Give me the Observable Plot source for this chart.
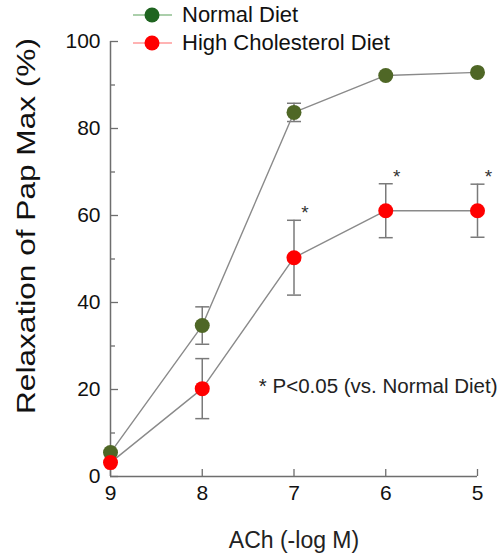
<!DOCTYPE html>
<html>
<head>
<meta charset="utf-8">
<script src="https://cdn.jsdelivr.net/npm/d3@7"></script>
<script src="https://cdn.jsdelivr.net/npm/@observablehq/plot@0.6"></script>
<style>
  html, body { margin: 0; padding: 0; background: #fff; }
  #wrap { position: relative; width: 500px; height: 555px; font-family: "Liberation Sans", Arial, sans-serif; }
  #legend { position: absolute; left: 0; top: 0; }
  .lg { position: absolute; left: 130px; height: 24px; display: flex; align-items: center; font-size: 22px; color: #111; white-space: nowrap; }
  .lg svg { margin-right: 8px; }
</style>
</head>
<body>
<div id="wrap"><div id="legend"></div></div>
<script>
// ---- data ----
const doses = [9, 8, 7, 6, 5];                 // ACh (-log M)
const normalMean = [5.5, 34.7, 83.7, 92.2, 92.9];
const normalErr  = [0, 4.3, 2.1, 0, 0];
const cholMean   = [3.2, 20.2, 50.3, 61.1, 61.1];
const cholErr    = [0, 6.9, 8.6, 6.2, 6.1];
const significant = [false, false, true, true, true]; // * P<0.05
const seriesNames = ["Normal Diet", "High Cholesterol Diet"];
const seriesColors = ["#4f6726", "#ff0000"];
const legendColors = ["#1f6420", "#ff0000"];
const legendLineColors = ["#8fbf8f", "#ff9a9a"];
const yTicks = [0, 20, 40, 60, 80, 100];
const yMinorTicks = [10, 30, 50, 70, 90];
const xTicks = [9, 8, 7, 6, 5];
const yTitle = "Relaxation of Pap Max (%)";
const xTitle = "ACh (-log M)";
const noteText = "* P<0.05 (vs. Normal Diet)";
const noteY = 20.8;

// ---- tables ----
const rows = [];
doses.forEach((d, i) => {
  rows.push({series: seriesNames[0], x: d, y: normalMean[i], e: normalErr[i], sig: false});
  rows.push({series: seriesNames[1], x: d, y: cholMean[i], e: cholErr[i], sig: significant[i]});
});
const errRows = rows.filter(r => r.e > 0);

const capSymbol = {
  draw(context, size) {
    const w = Math.sqrt(size / Math.PI);
    context.moveTo(-w, 0);
    context.lineTo(w, 0);
  }
};

const axisColor = "#6e6e6e";
const font = "Liberation Sans, Arial, sans-serif";

const chart = Plot.plot({
  width: 500,
  height: 555,
  marginLeft: 110,
  marginRight: 23,
  marginTop: 41,
  marginBottom: 79,
  style: {fontFamily: font, background: "transparent", overflow: "visible"},
  x: {domain: [9, 5], axis: null},
  y: {domain: [0, 100], axis: null},
  color: {domain: seriesNames, range: seriesColors},
  marks: [
    // axes lines
    Plot.ruleX([9], {stroke: axisColor, strokeWidth: 1.5}),
    Plot.ruleY([0], {stroke: axisColor, strokeWidth: 1.5}),
    // y ticks (inward) + labels
    Plot.axisY({ticks: yTicks, tickSize: -8, stroke: axisColor, strokeWidth: 1.3, text: null, label: null}),
    Plot.axisY({ticks: yMinorTicks, tickSize: -5, stroke: axisColor, strokeWidth: 1.3, text: null, label: null}),
    Plot.axisY({ticks: yTicks, tickSize: 0, tickPadding: 10, fontSize: 21, fill: "#111", label: null}),
    // x ticks (inward) + labels
    Plot.axisX({ticks: xTicks, tickSize: -7, stroke: axisColor, strokeWidth: 1.3, text: null, label: null}),
    Plot.axisX({ticks: xTicks, tickSize: 0, tickPadding: 9, fontSize: 21, fill: "#111", label: null, tickFormat: d3.format("d")}),
    // axis titles
    Plot.text([yTitle], {frameAnchor: "left", textAnchor: "middle", rotate: -90, dx: -84, dy: -33, fontSize: 25, fill: "#111"}),
    Plot.text([xTitle], {frameAnchor: "bottom", dy: 71, fontSize: 23, fill: "#222"}),
    // error bars
    Plot.ruleX(errRows, {x: "x", y1: d => d.y - d.e, y2: d => d.y + d.e, stroke: "#7a7a7a", strokeWidth: 1.5}),
    Plot.dot(errRows, {x: "x", y: d => d.y + d.e, symbol: capSymbol, r: 7, fill: "none", stroke: "#7a7a7a", strokeWidth: 1.5}),
    Plot.dot(errRows, {x: "x", y: d => d.y - d.e, symbol: capSymbol, r: 7, fill: "none", stroke: "#7a7a7a", strokeWidth: 1.5}),
    // lines
    Plot.line(rows, {x: "x", y: "y", z: "series", stroke: "#8a8a8a", strokeWidth: 1.4}),
    // points
    Plot.dot(rows, {x: "x", y: "y", fill: "series", r: 7.5}),
    // significance asterisks
    Plot.text(rows.filter(r => r.sig), {x: "x", y: d => d.y + d.e, text: () => "*", dx: 11, dy: -7, fontSize: 19, fill: "#333"}),
    // note
    Plot.text([noteText], {frameAnchor: "right", y: () => noteY, textAnchor: "end", dx: 20, fontSize: 20.5, fill: "#222"})
  ]
});

// stretch the rotated y title along its length to match the reference
d3.select(chart).selectAll("text")
  .filter(function() { return this.textContent === yTitle; })
  .attr("textLength", 376)
  .attr("lengthAdjust", "spacingAndGlyphs");

const wrap = document.getElementById("wrap");
wrap.insertBefore(chart, wrap.firstChild);

// legend
const legend = document.getElementById("legend");
const legendTops = [3, 31];
seriesNames.forEach((name, i) => {
  const row = document.createElement("div");
  row.className = "lg";
  row.style.top = legendTops[i] + "px";
  row.innerHTML = `<svg width="44" height="20"><line x1="3" x2="42" y1="10" y2="10" stroke="${legendLineColors[i]}" stroke-width="1.5"/><circle cx="22" cy="10" r="7.5" fill="${legendColors[i]}"/></svg><span>${name}</span>`;
  legend.appendChild(row);
});
</script>
</body>
</html>
